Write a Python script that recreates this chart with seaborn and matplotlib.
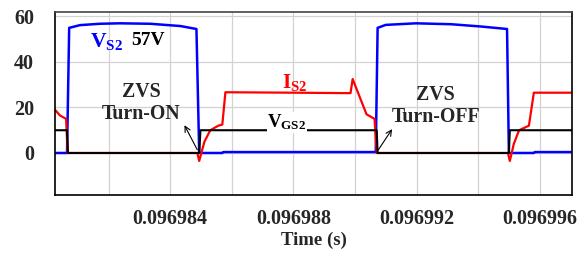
import numpy as np
import pandas as pd
import matplotlib
matplotlib.use("Agg")
import matplotlib.pyplot as plt
import seaborn as sns

# ===============================
# Waveform data
# ===============================
t_vs2 = [0.09698026, 0.09698065, 0.09698072, 0.09698107, 0.09698172, 0.09698237,
         0.09698335, 0.09698433, 0.09698485, 0.09698494, 0.09698569, 0.09698572,
         0.09699067, 0.09699073, 0.09699099, 0.09699197, 0.09699311, 0.09699408,
         0.09699493, 0.09699499, 0.09699580, 0.09699583, 0.09699707]
v_vs2 = [0.0, 0.0, 55.0, 56.2, 56.8, 57.0,
         56.8, 55.8, 54.5, 0.0, 0.0, 0.4,
         0.4, 55.0, 56.3, 57.0, 56.6, 55.6,
         54.5, 0.0, 0.0, 0.4, 0.4]

t_is2 = [0.09698026, 0.09698042, 0.09698062, 0.09698067, 0.09698488, 0.09698494,
         0.09698511, 0.09698530, 0.09698556, 0.09698569, 0.09698579, 0.09698800,
         0.09698985, 0.09698992, 0.09699037, 0.09699063, 0.09699070, 0.09699496,
         0.09699502, 0.09699515, 0.09699532, 0.09699564, 0.09699580, 0.09699707]
v_is2 = [19.0, 16.5, 15.0, 0.0, 0.0, -3.5,
         5.0, 10.0, 12.0, 12.5, 26.7, 26.5,
         26.3, 32.5, 17.0, 15.0, 0.0, 0.0,
         -3.5, 4.0, 10.0, 12.0, 26.5, 26.5]

t_vgs2 = [0.09698026, 0.09698065, 0.09698068, 0.09698494, 0.09698498, 0.09699070,
          0.09699073, 0.09699499, 0.09699502, 0.09699707]
v_vgs2 = [10.0, 10.0, 0.0, 0.0, 10.0, 10.0,
          0.0, 0.0, 10.0, 10.0]

x_ticks = [0.096982, 0.096984, 0.096986, 0.096988, 0.096990, 0.096992, 0.096994, 0.096996]
x_labels = ["", "0.096984", "", "0.096988", "", "0.096992", "", "0.096996"]
y_ticks = [0, 20, 40, 60]

# ===============================
# Style
# ===============================
sns.set_style("whitegrid")
plt.rcParams["font.family"] = ["Liberation Serif", "DejaVu Serif"]
plt.rcParams["font.weight"] = "bold"
plt.rcParams["mathtext.fontset"] = "custom"
plt.rcParams["mathtext.rm"] = "Liberation Serif:bold"
plt.rcParams["mathtext.it"] = "Liberation Serif:bold"
plt.rcParams["mathtext.bf"] = "Liberation Serif:bold"

fig = plt.figure(figsize=(5.79, 2.54), dpi=100)
ax = fig.add_axes([0.095, 0.232, 0.893, 0.721])

df_vs = pd.DataFrame({"t": t_vs2, "v": v_vs2})
df_is = pd.DataFrame({"t": t_is2, "v": v_is2})
df_vg = pd.DataFrame({"t": t_vgs2, "v": v_vgs2})

sns.lineplot(data=df_vs, x="t", y="v", ax=ax, color="#0000ff", lw=1.8,
             estimator=None, sort=False)
sns.lineplot(data=df_is, x="t", y="v", ax=ax, color="#ff0000", lw=1.6,
             estimator=None, sort=False)
sns.lineplot(data=df_vg, x="t", y="v", ax=ax, color="black", lw=1.5,
             estimator=None, sort=False)

ax.set_xlim(0.09698026, 0.09699704)
ax.set_ylim(-18.5, 62)
ax.set_xticks(x_ticks)
ax.set_xticklabels(x_labels)
ax.set_yticks(y_ticks)
ax.tick_params(axis="both", length=0, labelsize=14.5)
ax.tick_params(axis="y", pad=15)
ax.tick_params(axis="x", pad=10)
for lab in ax.get_xticklabels() + ax.get_yticklabels():
    lab.set_fontweight("bold")

ax.grid(True, color="#d2d2d2", lw=0.9)
for s in ax.spines.values():
    s.set_color("black")
    s.set_linewidth(1.2)
ax.spines["top"].set_color("#444444")

ax.set_xlabel("Time (s)", fontsize=13.5, fontweight="bold", labelpad=2)
ax.set_ylabel("")

# ===============================
# Annotations
# ===============================
ax.text(0.09698138, 49, r"$\mathrm{V}_{\mathrm{S2}}$", color="#0000ff",
        fontsize=15.5, ha="left", va="center")
ax.text(0.09698328, 49.3, "57V", color="black", fontsize=14,
        fontweight="bold", ha="center", va="center")
ax.text(0.09698306, 27, "ZVS", fontsize=14.3, fontweight="bold", ha="center", va="center")
ax.text(0.09698306, 17.2, "Turn-ON", fontsize=14.3, fontweight="bold", ha="center", va="center")
ax.annotate("", xy=(0.09698442, 13.3), xytext=(0.09698492, 0.3),
            arrowprops=dict(arrowstyle="->", color="black", lw=0.8))

ax.text(0.09698764, 26.5, r"$\mathrm{I}_{\mathrm{S2}}$", color="#ff0000",
        fontsize=15, ha="left", va="bottom")
ax.text(0.09698715, 13.4, r"$\mathrm{V}_{\mathrm{GS2}}$", color="black",
        fontsize=13.5, ha="left", va="center",
        bbox=dict(facecolor="white", edgecolor="none", pad=0.5))

ax.text(0.09699262, 25.5, "ZVS", fontsize=14.3, fontweight="bold", ha="center", va="center")
ax.text(0.09699262, 15.9, "Turn-OFF", fontsize=14.3, fontweight="bold", ha="center", va="center")
ax.annotate("", xy=(0.09699125, 11.5), xytext=(0.09699070, 0.3),
            arrowprops=dict(arrowstyle="->", color="black", lw=0.8))

fig.savefig("out.png", dpi=100)
